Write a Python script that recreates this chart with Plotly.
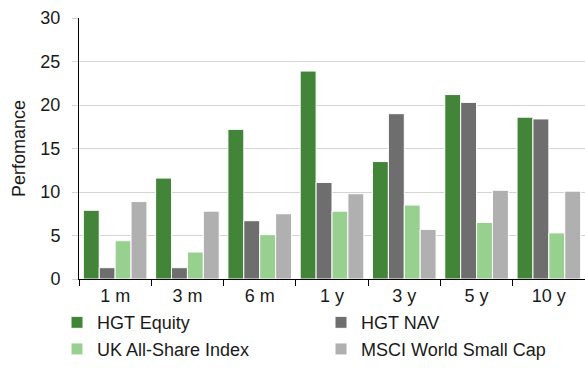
import plotly.graph_objects as go

categories = ["1 m", "3 m", "6 m", "1 y", "3 y", "5 y", "10 y"]
hgt_equity = [7.9, 11.6, 17.2, 23.9, 13.5, 21.2, 18.6]
hgt_nav = [1.3, 1.3, 6.7, 11.1, 19.0, 20.3, 18.4]
uk_all_share = [4.4, 3.1, 5.1, 7.8, 8.5, 6.5, 5.3]
msci_small = [8.9, 7.8, 7.5, 9.8, 5.7, 10.2, 10.1]
y_ticks = [0, 5, 10, 15, 20, 25, 30]

series = [
    ("HGT Equity", hgt_equity, "#428538", "legend"),
    ("HGT NAV", hgt_nav, "#6e6e6e", "legend"),
    ("UK All-Share Index", uk_all_share, "#98d18f", "legend2"),
    ("MSCI World Small Cap", msci_small, "#b0b0b0", "legend2"),
]

FONT = "Liberation Sans, Arial, sans-serif"
TXT = "#1a1a1a"

fig = go.Figure()
for name, vals, col, lg in series:
    fig.add_trace(go.Bar(
        x=categories, y=vals, name=name, legend=lg,
        marker=dict(color=col, line=dict(color="white", width=1)),
    ))

leg_common = dict(
    orientation="h", x=-0.01, xanchor="left", yanchor="bottom",
    entrywidth=219, entrywidthmode="pixels",
    font=dict(family=FONT, size=18, color=TXT),
    itemclick=False, bgcolor="rgba(0,0,0,0)",
)

fig.update_layout(
    width=585, height=369,
    margin=dict(l=79, r=0, t=18, b=90),
    paper_bgcolor="white", plot_bgcolor="white",
    font=dict(family=FONT, size=18, color=TXT),
    barmode="group", bargap=0.12, bargroupgap=0,
    showlegend=True,
    legend=dict(y=-0.238, **leg_common),
    legend2=dict(y=-0.340, **leg_common),
)
fig.update_xaxes(
    showline=True, linecolor="black", linewidth=1,
    ticks="outside", tickson="boundaries", ticklen=6, tickcolor="black",
    showgrid=False, tickfont=dict(size=18), automargin=False,
)
fig.update_yaxes(
    range=[0, 30], tickvals=y_ticks,
    showline=True, linecolor="black", linewidth=1,
    showgrid=True, gridcolor="#d4d4d4", gridwidth=1,
    ticks="outside", ticklen=6, tickcolor="#d4d4d4",
    ticklabelstandoff=8, automargin=False,
    tickfont=dict(size=18),
    title=dict(text="Perfomance", font=dict(size=18), standoff=10),
    zeroline=False,
)

fig.write_html("out.html")
